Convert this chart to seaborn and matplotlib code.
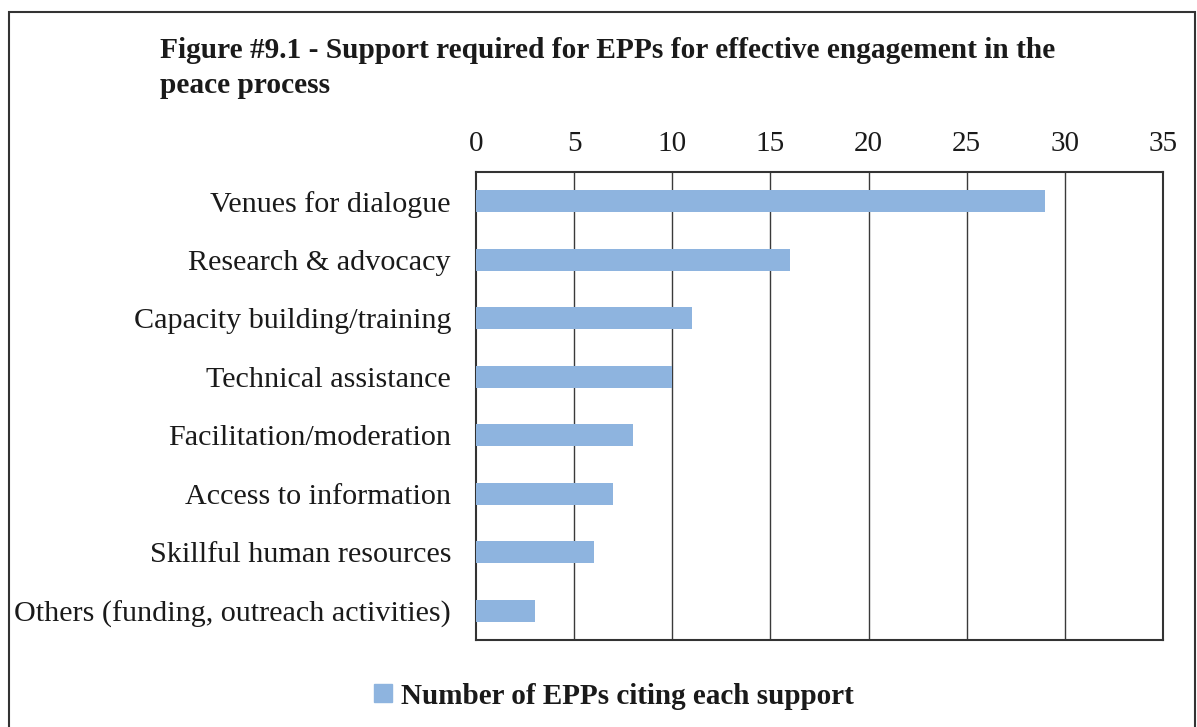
import pandas as pd
import matplotlib.pyplot as plt
import matplotlib.patches as mpatches
import seaborn as sns

categories = [
    'Venues for dialogue',
    'Research & advocacy',
    'Capacity building/training',
    'Technical assistance',
    'Facilitation/moderation',
    'Access to information',
    'Skillful human resources',
    'Others (funding, outreach activities)',
]
counts = [29, 16, 11, 10, 8, 7, 6, 3]
xticks = [0, 5, 10, 15, 20, 25, 30, 35]

df = pd.DataFrame({'support': categories, 'count': counts})

sns.set_style('white')
plt.rcParams['font.family'] = ['Liberation Serif', 'DejaVu Serif']
plt.rcParams['text.color'] = '#1a1a1a'
plt.rcParams['xtick.color'] = '#1a1a1a'
plt.rcParams['ytick.color'] = '#1a1a1a'

bar_color = '#8EB4DF'

fig = plt.figure(figsize=(11.97, 7.27), dpi=100)
ax = fig.add_axes([476 / 1197, 1 - 640 / 727, (1163 - 476) / 1197, (640 - 172) / 727])

sns.barplot(data=df, x='count', y='support', orient='h', color=bar_color,
            width=0.37, saturation=1, linewidth=0, ax=ax, zorder=3)

ax.set_xlim(0, 35)
ax.set_xticks(xticks)
ax.xaxis.tick_top()
ax.tick_params(axis='x', length=0, pad=11, labelsize=21)
ax.tick_params(axis='y', length=0, pad=18, labelsize=21.7)
ax.set_xlabel('')
ax.set_ylabel('')
for x in xticks[1:-1]:
    ax.axvline(x, color='#3a3a3a', lw=1.0, zorder=1)
for s in ax.spines.values():
    s.set_visible(True)
    s.set_color('#333333')
    s.set_linewidth(1.5)

# title
fig.text(160 / 1197, 1 - 68 / 727,
         'Figure #9.1 - Support required for EPPs for effective engagement in the\npeace process',
         fontsize=21.2, fontweight='bold', ha='left', va='center', linespacing=1.42)

# legend
handle = mpatches.Patch(color=bar_color, label='Number of EPPs citing each support')
fig.legend(handles=[handle], loc='center', bbox_to_anchor=(614 / 1197, 1 - 696 / 727),
           frameon=False, prop={'weight': 'bold', 'size': 21},
           handlelength=0.6, handleheight=0.6, handletextpad=0.3)

# outer frame
frame = mpatches.Rectangle((9 / 1197, -0.05), (1195 - 9) / 1197, 1 - 12 / 727 + 0.05,
                           transform=fig.transFigure, fill=False,
                           edgecolor='#333333', lw=1.5)
fig.patches.append(frame)

fig.savefig('out.png', dpi=100)
